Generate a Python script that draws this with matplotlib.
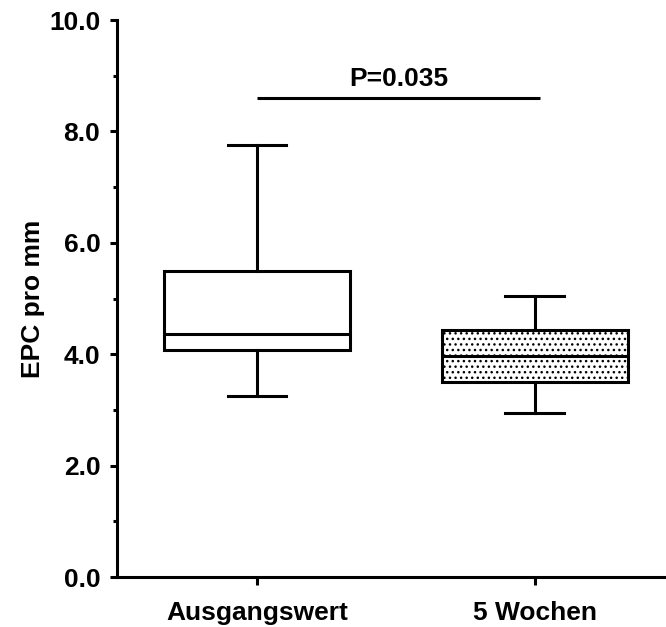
import matplotlib
matplotlib.use("Agg")
import matplotlib.pyplot as plt
from matplotlib.ticker import MultipleLocator, FormatStrFormatter

plt.rcParams['font.family'] = ['Liberation Sans', 'DejaVu Sans']
plt.rcParams['font.weight'] = 'bold'
plt.rcParams['hatch.linewidth'] = 1.0

# box statistics
groups = ["Ausgangswert", "5 Wochen"]
whislo = [3.25, 2.95]
q1 = [4.07, 3.51]
med = [4.37, 3.97]
q3 = [5.49, 4.44]
whishi = [7.76, 5.04]
p_text = "P=0.035"
p_level = 8.6

stats = []
for i in range(len(groups)):
    stats.append(dict(label=groups[i], whislo=whislo[i], q1=q1[i], med=med[i],
                      q3=q3[i], whishi=whishi[i], fliers=[]))

fig = plt.figure(figsize=(6.66, 6.27), dpi=100)
ax = fig.add_axes([0.1757, 0.0797, 0.8228, 0.8883])

lw = 2.2
bp = ax.bxp(stats, positions=[1, 2], widths=0.67, patch_artist=True,
            showfliers=False,
            boxprops=dict(linewidth=lw, edgecolor='black', facecolor='white'),
            medianprops=dict(linewidth=lw, color='black'),
            whiskerprops=dict(linewidth=lw, color='black'),
            capprops=dict(linewidth=lw, color='black'),
            capwidths=0.21)
bp['boxes'][1].set_hatch('...')

# significance bar
ax.plot([1.0, 2.02], [p_level, p_level], color='black', lw=lw, solid_capstyle='butt')
ax.text(1.51, p_level + 0.12, p_text, ha='center', va='bottom', fontsize=19, fontweight='bold')

ax.set_xlim(0.496, 2.47)
ax.set_ylim(0, 10)
ax.yaxis.set_major_locator(MultipleLocator(2))
ax.yaxis.set_minor_locator(MultipleLocator(1))
ax.yaxis.set_major_formatter(FormatStrFormatter('%.1f'))
ax.set_xticks([1, 2])
ax.set_xticklabels(groups)

for s in ['top', 'right']:
    ax.spines[s].set_visible(False)
for s in ['left', 'bottom']:
    ax.spines[s].set_linewidth(lw)

ax.tick_params(axis='both', which='major', width=lw, length=5, labelsize=19)
ax.tick_params(axis='y', which='minor', width=lw, length=3)
ax.tick_params(axis='y', which='major', pad=7)
ax.tick_params(axis='x', which='major', length=6, pad=11)
ax.set_ylabel("EPC pro mm", fontsize=19, fontweight='bold', labelpad=3)

fig.savefig("out.png", dpi=100)
